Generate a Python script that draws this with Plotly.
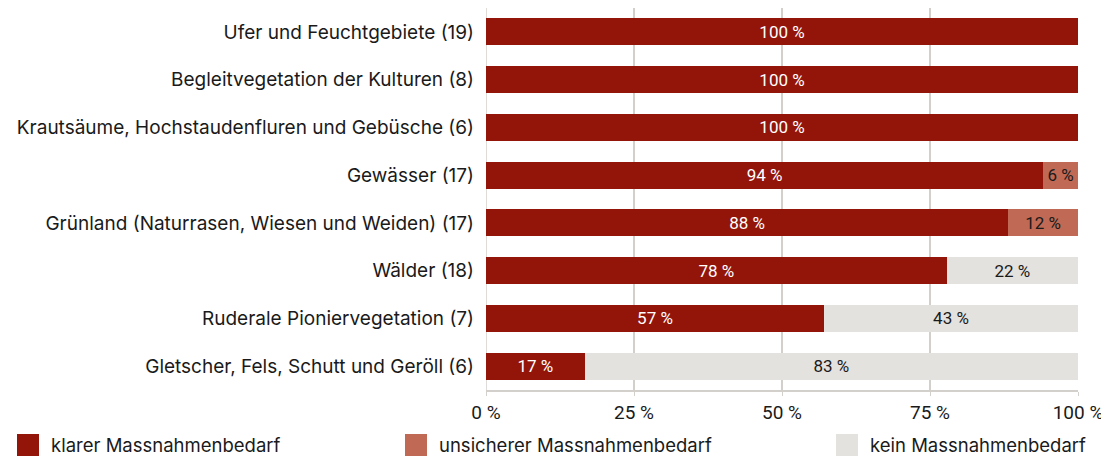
import plotly.graph_objects as go

categories = [
    "Ufer und Feuchtgebiete (19)",
    "Begleitvegetation der Kulturen (8)",
    "Krautsäume, Hochstaudenfluren und Gebüsche (6)",
    "Gewässer (17)",
    "Grünland (Naturrasen, Wiesen und Weiden) (17)",
    "Wälder (18)",
    "Ruderale Pioniervegetation (7)",
    "Gletscher, Fels, Schutt und Geröll (6)",
]
klar = [100, 100, 100, 94.1, 88.2, 77.8, 57.1, 16.7]
unsicher = [0, 0, 0, 5.9, 11.8, 0, 0, 0]
kein = [0, 0, 0, 0, 0, 22.2, 42.9, 83.3]
series_names = ["klarer Massnahmenbedarf", "unsicherer Massnahmenbedarf", "kein Massnahmenbedarf"]
x_ticks = [0, 25, 50, 75, 100]
x_tick_labels = ["0 %", "25 %", "50 %", "75 %", "100 %"]

colors = ["#93150A", "#C06A55", "#E3E2DF"]
text_colors = ["#FFFFFF", "#1A1A1A", "#1A1A1A"]
narrow = "Liberation Sans Narrow, Roboto, sans-serif"
main_font = "Inter, Roboto, sans-serif"

# figure geometry (pixels)
W, H = 1101, 450
ML, MR, MT, MB = 478, 31, 0, 68
PW, PH = W - ML - MR, H - MT - MB

def px_x(x):
    return (x - ML) / PW

def px_y(y):
    return (H - MB - y) / PH

fig = go.Figure()
for vals, name, col, tcol in zip([klar, unsicher, kein], series_names, colors, text_colors):
    texts = [f"{v:.0f} %" if v > 0 else "" for v in vals]
    fig.add_trace(go.Bar(
        y=categories, x=vals, name=name, orientation="h",
        marker=dict(color=col, line=dict(width=0)),
        text=texts, textposition="inside", insidetextanchor="middle",
        textangle=0, constraintext="none",
        textfont=dict(color=tcol, size=17, family=narrow),
        width=0.565, hoverinfo="skip", showlegend=False,
    ))

# legend: colour squares + labels
legend_x = [9, 397, 828]
legend_shapes = []
legend_annots = []
for lx, name, col in zip(legend_x, series_names, colors):
    legend_shapes.append(dict(type="rect", xref="paper", yref="paper",
                              x0=px_x(lx), x1=px_x(lx + 22), y0=px_y(448), y1=px_y(426),
                              fillcolor=col, line=dict(width=0)))
    legend_annots.append(dict(text=name, xref="paper", yref="paper",
                              x=px_x(lx + 32), y=px_y(437), xanchor="left", yanchor="middle",
                              showarrow=False, font=dict(size=18.5, color="#1A1A1A", family=main_font)))

fig.update_layout(
    width=W, height=H,
    barmode="stack",
    showlegend=False,
    plot_bgcolor="white", paper_bgcolor="white",
    margin=dict(l=ML, r=MR, t=MT, b=MB, autoexpand=False),
    font=dict(family=main_font, color="#1A1A1A"),
    xaxis=dict(
        range=[0, 100], tickvals=x_ticks, ticktext=x_tick_labels,
        showgrid=True, gridcolor="#D3CFCB", gridwidth=1.5,
        zeroline=False, showline=True, linecolor="#D3CFCB", linewidth=1.5,
        ticks="outside", ticklen=4, tickcolor="#D3CFCB",
        tickfont=dict(size=19, color="#1A1A1A", family=narrow), fixedrange=True,
    ),
    yaxis=dict(
        autorange="reversed", showgrid=False, ticks="",
        ticklabelstandoff=11,
        tickfont=dict(size=19, color="#1A1A1A", family=main_font), fixedrange=True,
    ),
    shapes=[dict(type="line", xref="x", yref="paper", x0=0, x1=0, y0=0, y1=1,
                 line=dict(color="#D3CFCB", width=1.5), layer="below")] + legend_shapes,
    annotations=legend_annots,
)

fig.write_html("out.html")
